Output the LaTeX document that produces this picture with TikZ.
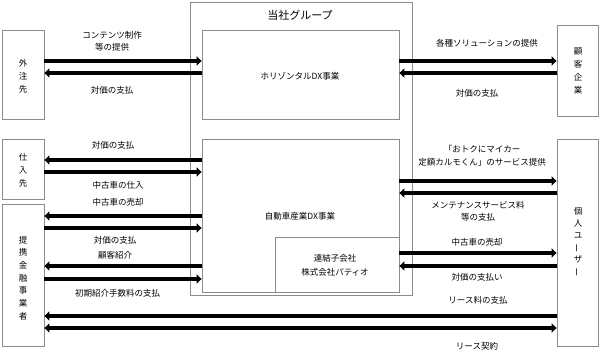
\documentclass[tikz,border=0pt]{standalone}
\usepackage{fontspec}
\newfontfamily\jp{Noto Sans CJK JP}
\usetikzlibrary{arrows.meta}
\newcommand{\vbar}{\rotatebox[origin=c]{90}{ー}}
\begin{document}
\begin{tikzpicture}[x=1pt,y=-1pt,
  box/.style={draw=black!45, line width=0.8pt, fill=white, inner sep=0pt},
  vtext/.style={font=\jp\fontsize{8.5}{13}\selectfont, align=center, inner sep=0pt},
  lbl/.style={font=\jp\fontsize{8.5}{12.5}\selectfont, align=center, inner sep=0pt},
  arr/.style={line width=4.3pt, -{Triangle[length=5pt,width=9pt]}},
  darr/.style={line width=4.3pt, {Triangle[length=5pt,width=9pt]}-{Triangle[length=5pt,width=9pt]}},
  plain/.style={line width=4.3pt}]
\useasboundingbox (0,0) rectangle (600,358);
% outer group
\node[box, minimum width=222pt, minimum height=293pt] (grp) at (301,148.5) {};
\node[font=\jp\fontsize{11}{13}\selectfont] (grpt) at (300,15) {当社グループ};
\node[box, minimum width=197pt, minimum height=89pt] (hor) at (300.5,74.5) {};
\node[lbl] (hort) at (300,76) {ホリゾンタルDX事業};
\node[box, minimum width=197pt, minimum height=153pt] (auto) at (300.5,215.5) {};
\node[lbl] (autot) at (300,216) {自動車産業DX事業};
\node[box, minimum width=124pt, minimum height=55pt] (sub) at (337,264.5) {};
\node[lbl, font=\jp\fontsize{8.5}{14}\selectfont] (subt) at (335,265) {連結子会社\\株式会社パティオ};
% left boxes
\node[box, minimum width=42pt, minimum height=89pt] (gaichu) at (23,74.5) {};
\node[vtext] at (23,76) {外\\注\\先};
\node[box, minimum width=42pt, minimum height=60pt] (shiire) at (23,169) {};
\node[vtext] at (23,170) {仕\\入\\先};
\node[box, minimum width=42pt, minimum height=142pt] (kinyu) at (23,275) {};
\node[vtext, font=\jp\fontsize{8.5}{12.7}\selectfont] at (23,278) {提\\携\\金\\融\\事\\業\\者};
% right boxes
\node[box, minimum width=41pt, minimum height=91pt] (kokyaku) at (577.5,70.5) {};
\node[vtext, font=\jp\fontsize{8.5}{12.7}\selectfont] at (578,71) {顧\\客\\企\\業};
\node[box, minimum width=41pt, minimum height=207pt] (kojin) at (577.5,242.5) {};
\node[vtext, font=\jp\fontsize{8.5}{12}\selectfont] at (578,242) {個\\人\\ユ\\\vbar\\ザ\\\vbar};
% top-left arrows
\draw[arr] (gaichu.east |- 0,61) -- (hor.west |- 0,61);
\draw[arr] (hor.west |- 0,73) -- (gaichu.east |- 0,73);
\node[lbl] (l1) at (112,41.5) {コンテンツ制作\\等の提供};
\node[lbl] (l2) at (112,90) {対価の支払};
% top-right arrows
\draw[arr] (hor.east |- 0,61) -- (kokyaku.west |- 0,61);
\draw[arr] (kokyaku.west |- 0,73) -- (hor.east |- 0,73);
\node[lbl] (r1) at (487,43) {各種ソリューションの提供};
\node[lbl] (r2) at (477,93) {対価の支払};
% shiire arrows
\draw[arr] (auto.west |- 0,160) -- (shiire.east |- 0,160);
\draw[arr] (shiire.east |- 0,172) -- (auto.west |- 0,172);
\node[lbl] (m1) at (113,145) {対価の支払};
\node[lbl] (m2) at (118,185) {中古車の仕入};
% kinyu arrows
\node[lbl] (m3) at (118,202) {中古車の売却};
\draw[arr] (auto.west |- 0,216) -- (kinyu.east |- 0,216);
\draw[arr] (kinyu.east |- 0,228) -- (auto.west |- 0,228);
\node[lbl] (m4) at (115,240) {対価の支払};
\node[lbl] (m5) at (115,255) {顧客紹介};
\draw[arr] (auto.west |- 0,266) -- (kinyu.east |- 0,266);
\draw[arr] (kinyu.east |- 0,279) -- (auto.west |- 0,279);
\node[lbl] (m6) at (117.5,293) {初期紹介手数料の支払};
% right middle arrows
\node[lbl] (rm1) at (482,156) {「おトクにマイカー\\定額カルモくん」のサービス提供};
\draw[arr] (auto.east |- 0,181) -- (kojin.west |- 0,181);
\draw[arr] (kojin.west |- 0,193) -- (auto.east |- 0,193);
\node[lbl] (rm2) at (478,211.5) {メンテナンスサービス料\\等の支払};
\node[lbl] (rm3) at (477,242) {中古車の売却};
\draw[arr] (sub.east |- 0,253) -- (kojin.west |- 0,253);
\draw[arr] (kojin.west |- 0,266) -- (sub.east |- 0,266);
\node[lbl] (rm4) at (477,277) {対価の支払い};
% lease arrows
\node[lbl] (ls1) at (478,300) {リース料の支払};
\draw[arr] (kojin.west |- 0,316) -- (kinyu.east |- 0,316);
\draw[darr] (kinyu.east |- 0,328) -- (kojin.west |- 0,328);
\node[lbl] (ls2) at (477,346) {リース契約};
\end{tikzpicture}
\end{document}
